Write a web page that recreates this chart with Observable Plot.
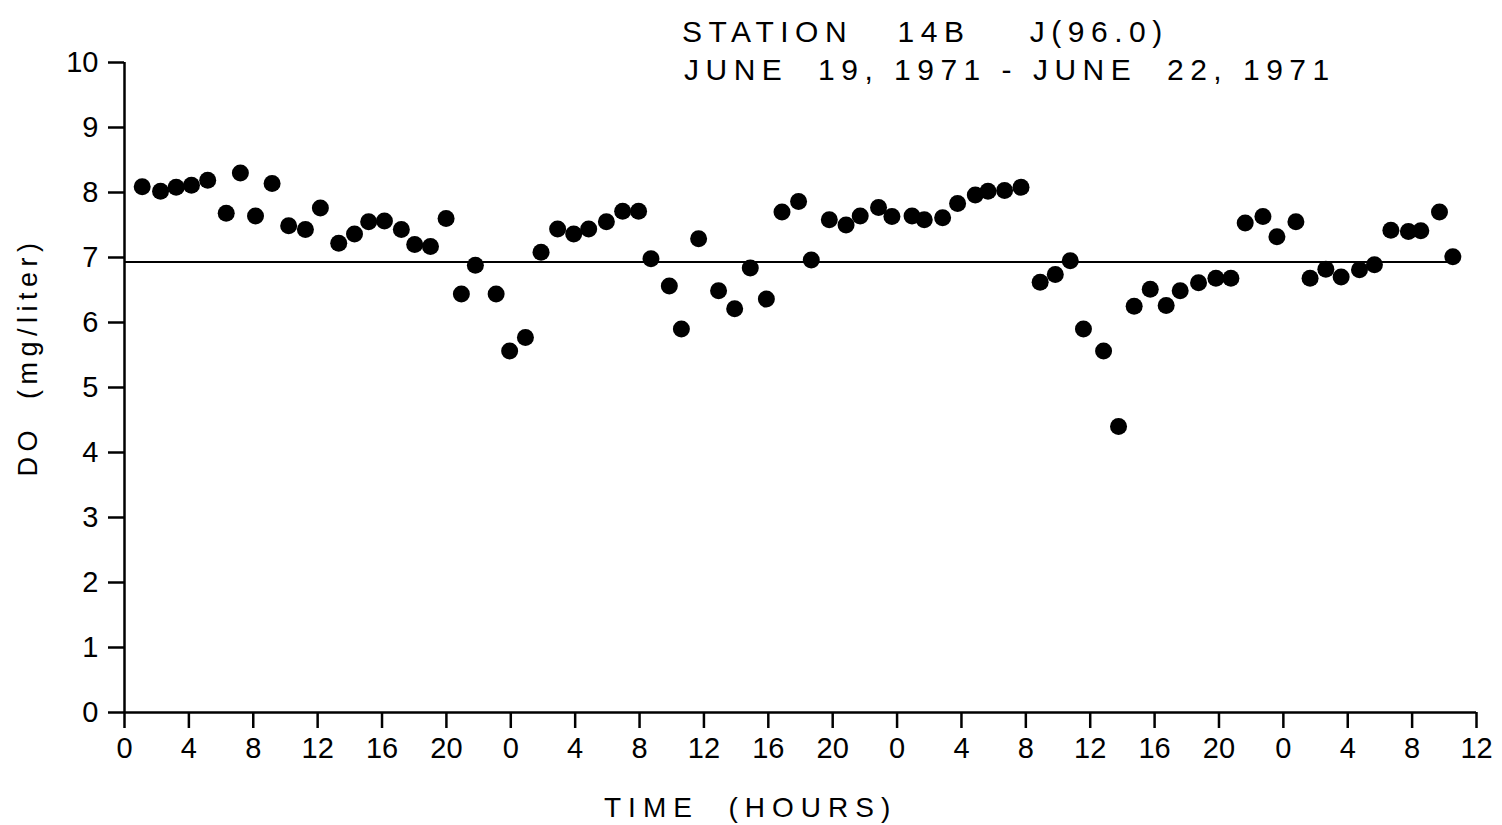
<!DOCTYPE html>
<html>
<head>
<meta charset="utf-8">
<script src="https://cdn.jsdelivr.net/npm/d3@7"></script>
<script src="https://cdn.jsdelivr.net/npm/@observablehq/plot@0.6"></script>
<style>
  body { margin: 0; background: #fff; }
  #wrap { position: relative; width: 1502px; height: 825px; background: #fff; font-family: "Liberation Sans", Arial, sans-serif; color: #000; }
  #wrap svg { position: absolute; left: 0; top: 0; }
  .txt { position: absolute; white-space: pre; line-height: 1; }
  #title1 { left: 682px; top: 17px; font-size: 30px; letter-spacing: 6.5px; }
  #title2 { left: 684px; top: 55px; font-size: 30px; letter-spacing: 6.5px; }
  #xlab { left: 604px; top: 794px; font-size: 28px; letter-spacing: 7px; }
  #ylab { left: 28px; top: 357px; font-size: 27px; letter-spacing: 5.5px; transform: translate(-50%, -50%) rotate(-90deg); }
</style>
</head>
<body>
<div id="wrap"></div>
<script>
// Time in hours from start (0 = midnight June 19, 1971)
const hours = [
  1.10, 2.24, 3.21, 4.16, 5.17, 6.32, 7.20, 8.14, 9.17, 10.20,
  11.24, 12.17, 13.31, 14.29, 15.17, 16.15, 17.20, 18.03, 19.01, 19.98,
  20.93, 21.80, 23.09, 23.93, 24.91, 25.88, 26.91, 27.91, 28.84, 29.94,
  30.95, 31.94, 32.71, 33.85, 34.60, 35.67, 36.91, 37.91, 38.88, 39.88,
  40.85, 41.88, 42.67, 43.79, 44.83, 45.71, 46.85, 47.68, 48.93, 49.69,
  50.83, 51.76, 52.86, 53.65, 54.68, 55.70, 56.89, 57.83, 58.76, 59.58,
  60.83, 61.76, 62.73, 63.73, 64.72, 65.59, 66.73, 67.81, 68.74, 69.63,
  70.73, 71.60, 72.78, 73.66, 74.64, 75.59, 76.73, 77.66, 78.68, 79.77,
  80.54, 81.70, 82.53
];
// Dissolved oxygen (mg/liter)
const doValues = [
  8.09, 8.02, 8.08, 8.11, 8.19, 7.68, 8.30, 7.64, 8.14, 7.49,
  7.43, 7.76, 7.22, 7.36, 7.55, 7.56, 7.43, 7.20, 7.17, 7.60,
  6.44, 6.88, 6.44, 5.56, 5.77, 7.08, 7.44, 7.36, 7.44, 7.55,
  7.71, 7.71, 6.98, 6.56, 5.90, 7.29, 6.49, 6.21, 6.84, 6.36,
  7.70, 7.86, 6.96, 7.58, 7.50, 7.64, 7.77, 7.63, 7.64, 7.58,
  7.61, 7.83, 7.96, 8.02, 8.03, 8.08, 6.62, 6.74, 6.95, 5.90,
  5.56, 4.40, 6.25, 6.51, 6.26, 6.49, 6.61, 6.68, 6.68, 7.53,
  7.63, 7.32, 7.55, 6.68, 6.82, 6.70, 6.81, 6.89, 7.42, 7.40,
  7.41, 7.70, 7.01
];
const meanDO = 6.93;
const meanLine = [{y: meanDO, x1: 0, x2: 82.53}];
const xTicks = d3.range(0, 85, 4);
const yTicks = d3.range(0, 11, 1);
const titleLines = ["STATION   14B    J(96.0)", "JUNE  19, 1971 - JUNE  22, 1971"];
const xLabel = "TIME  (HOURS)";
const yLabel = "DO  (mg/liter)";

const data = hours.map((h, i) => ({h, v: doValues[i]}));

const chart = Plot.plot({
  width: 1502,
  height: 825,
  marginLeft: 124,
  marginRight: 26,
  marginTop: 62,
  marginBottom: 113,
  style: {fontFamily: "'Liberation Sans', Arial, sans-serif", fontSize: "29px", color: "#000", background: "#fff", overflow: "visible"},
  x: {domain: [0, 84]},
  y: {domain: [0, 10]},
  marks: [
    Plot.ruleY([0], {stroke: "#000", strokeWidth: 2.5}),
    Plot.ruleX([0], {stroke: "#000", strokeWidth: 2.5}),
    Plot.ruleY(meanLine, {y: "y", x1: "x1", x2: "x2", stroke: "#000", strokeWidth: 2}),
    Plot.dot(data, {x: "h", y: "v", r: 8.5, fill: "#000", stroke: null}),
    Plot.axisX({ticks: xTicks, tickFormat: d => String(d % 24), tickSize: 16, tickPadding: 9, strokeWidth: 2.5, fontSize: 29, label: null}),
    Plot.axisY({ticks: yTicks, tickFormat: d => String(d), tickSize: 16, tickPadding: 10, strokeWidth: 2.5, fontSize: 29, label: null})
  ]
});

const wrap = document.getElementById("wrap");
wrap.appendChild(chart);
function addText(id, s) {
  const d = document.createElement("div");
  d.className = "txt"; d.id = id; d.textContent = s;
  wrap.appendChild(d);
}
addText("title1", titleLines[0]);
addText("title2", titleLines[1]);
addText("xlab", xLabel);
addText("ylab", yLabel);
</script>
</body>
</html>
